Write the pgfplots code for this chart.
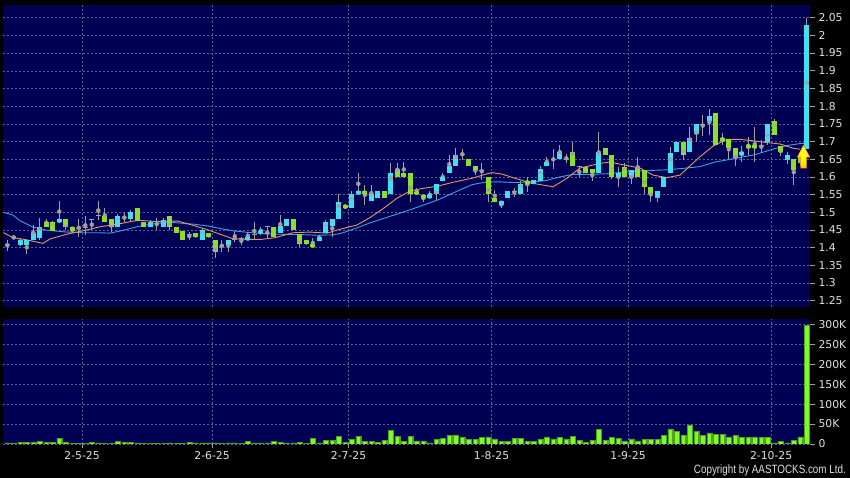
\documentclass[border=0pt]{standalone}
\usepackage{pgfplots}
\pgfplotsset{compat=1.18}
\usepackage{pgfplotstable}
\usepackage{fontspec}
\setmainfont{DejaVu Sans}
\newfontfamily\narrowfont[FakeStretch=0.82]{Liberation Sans}
\definecolor{navy}{RGB}{0,0,85}
\definecolor{gridc}{RGB}{95,95,145}
\definecolor{upc}{RGB}{64,224,240}
\definecolor{dnc}{RGB}{140,225,40}
\definecolor{wickc}{RGB}{160,160,160}
\definecolor{maorange}{RGB}{230,150,100}
\definecolor{mablue}{RGB}{60,160,230}
\definecolor{volc}{RGB}{125,250,40}
\definecolor{labc}{RGB}{225,225,225}

\pgfdeclareverticalshading{arrowshade}{100bp}{color(0bp)=(orange); color(40bp)=(yellow!90!orange); color(100bp)=(yellow!60!white)}
\pgfdeclareplotmark{aarrow}{%
  \pgfpathmoveto{\pgfqpoint{0pt}{12pt}}%
  \pgfpathlineto{\pgfqpoint{-6.3pt}{0pt}}%
  \pgfpathlineto{\pgfqpoint{-3pt}{0pt}}%
  \pgfpathlineto{\pgfqpoint{-3pt}{-11pt}}%
  \pgfpathlineto{\pgfqpoint{3pt}{-11pt}}%
  \pgfpathlineto{\pgfqpoint{3pt}{0pt}}%
  \pgfpathlineto{\pgfqpoint{6.3pt}{0pt}}%
  \pgfpathclose
  \pgfshadepath{arrowshade}{0}%
  \pgfusepath{stroke}%
}

% up candles: i O H L C
\pgfplotstableread{
i O H L C
2 1.408 1.428 1.406 1.422
3 1.408 1.421 1.381 1.421
4 1.421 1.464 1.421 1.441
5 1.428 1.483 1.422 1.459
8 1.472 1.532 1.472 1.480
17 1.459 1.495 1.459 1.490
19 1.480 1.505 1.475 1.500
22 1.459 1.478 1.459 1.472
24 1.459 1.485 1.459 1.478
30 1.422 1.455 1.422 1.450
34 1.408 1.422 1.389 1.422
37 1.422 1.445 1.422 1.429
39 1.441 1.459 1.436 1.448
42 1.440 1.492 1.440 1.460
43 1.460 1.480 1.460 1.480
48 1.420 1.436 1.420 1.429
49 1.440 1.478 1.440 1.472
50 1.461 1.480 1.429 1.480
51 1.480 1.553 1.480 1.530
53 1.511 1.560 1.511 1.551
54 1.551 1.610 1.551 1.560
56 1.531 1.577 1.531 1.551
57 1.540 1.560 1.540 1.560
59 1.551 1.640 1.551 1.610
65 1.539 1.560 1.539 1.550
66 1.551 1.580 1.535 1.580
67 1.589 1.610 1.589 1.600
68 1.610 1.662 1.610 1.631
69 1.631 1.681 1.631 1.662
76 1.521 1.533 1.511 1.533
77 1.539 1.560 1.539 1.560
79 1.552 1.589 1.552 1.580
81 1.580 1.591 1.580 1.591
82 1.588 1.630 1.588 1.621
83 1.630 1.655 1.630 1.643
85 1.650 1.690 1.650 1.669
91 1.610 1.728 1.610 1.669
94 1.599 1.629 1.572 1.610
96 1.601 1.620 1.580 1.620
100 1.539 1.561 1.530 1.561
101 1.571 1.599 1.571 1.599
102 1.610 1.685 1.610 1.668
103 1.669 1.700 1.669 1.700
105 1.669 1.742 1.669 1.709
106 1.721 1.750 1.700 1.750
108 1.759 1.791 1.719 1.772
113 1.662 1.686 1.643 1.671
117 1.700 1.750 1.690 1.750
120 1.648 1.671 1.637 1.662
123 1.680 2.050 1.680 2.030
}\upT

% down candles: i O H L C
\pgfplotstableread{
i O H L C
6 1.472 1.481 1.459 1.459
7 1.472 1.476 1.447 1.447
9 1.480 1.480 1.450 1.459
10 1.459 1.459 1.440 1.448
15 1.490 1.511 1.472 1.472
16 1.480 1.480 1.445 1.459
20 1.511 1.511 1.474 1.474
21 1.472 1.472 1.459 1.459
25 1.490 1.490 1.450 1.459
26 1.459 1.459 1.441 1.441
27 1.448 1.448 1.422 1.422
29 1.441 1.441 1.429 1.429
31 1.441 1.441 1.429 1.429
32 1.422 1.422 1.370 1.389
41 1.459 1.459 1.429 1.429
44 1.480 1.480 1.450 1.450
45 1.439 1.439 1.403 1.411
46 1.421 1.421 1.410 1.410
47 1.410 1.426 1.401 1.401
52 1.521 1.521 1.511 1.511
55 1.560 1.577 1.521 1.551
58 1.560 1.560 1.539 1.539
60 1.621 1.640 1.600 1.600
61 1.610 1.642 1.600 1.600
62 1.610 1.610 1.530 1.552
63 1.558 1.568 1.551 1.551
64 1.550 1.550 1.530 1.539
71 1.650 1.650 1.631 1.631
72 1.631 1.631 1.605 1.619
74 1.599 1.599 1.530 1.552
75 1.539 1.563 1.530 1.530
80 1.589 1.601 1.558 1.580
87 1.669 1.700 1.631 1.631
89 1.629 1.629 1.610 1.610
90 1.621 1.621 1.589 1.610
92 1.681 1.681 1.662 1.662
93 1.662 1.662 1.593 1.601
95 1.629 1.638 1.601 1.601
97 1.629 1.655 1.599 1.599
98 1.620 1.620 1.552 1.572
99 1.571 1.571 1.530 1.552
104 1.700 1.700 1.648 1.663
109 1.780 1.780 1.690 1.690
110 1.709 1.723 1.690 1.702
111 1.706 1.706 1.650 1.681
112 1.681 1.681 1.631 1.653
114 1.690 1.714 1.662 1.681
115 1.690 1.742 1.643 1.681
118 1.759 1.765 1.719 1.719
119 1.687 1.687 1.659 1.669
121 1.650 1.650 1.577 1.620
122 1.662 1.662 1.630 1.640
}\dnT

% doji: i P H L
\pgfplotstableread{
i P H L
0 1.409 1.422 1.391
1 1.428 1.436 1.422
11 1.455 1.481 1.431
12 1.457 1.490 1.436
13 1.480 1.480 1.450
14 1.490 1.532 1.478
18 1.485 1.497 1.473
23 1.475 1.483 1.450
28 1.436 1.443 1.422
33 1.403 1.422 1.389
35 1.424 1.447 1.417
36 1.426 1.431 1.408
38 1.436 1.472 1.422
40 1.459 1.459 1.426
70 1.662 1.680 1.648
73 1.619 1.640 1.592
78 1.558 1.568 1.544
84 1.650 1.678 1.621
86 1.650 1.665 1.640
88 1.629 1.629 1.600
107 1.747 1.775 1.715
116 1.690 1.704 1.667
}\djT

% volume in thousands
\pgfplotstableread{
i v
0 3
1 3
2 4
3 4
4 5
5 6
6 4
7 4
8 15
9 4
10 2
11 1
12 2
13 4
14 3
15 2
16 1
17 6
18 4
19 4
20 3
21 1
22 1
23 2
24 2
25 3
26 2
27 2
28 4
29 3
30 3
31 3
32 3
33 2
34 3
35 3
36 2
37 6
38 3
39 3
40 3
41 7
42 4
43 3
44 3
45 4
46 2
47 15
48 3
49 9
50 9
51 20
52 5
53 11
54 19
55 7
56 7
57 5
58 9
59 34
60 19
61 7
62 19
63 8
64 8
65 3
66 12
67 15
68 22
69 23
70 18
71 12
72 12
73 16
74 18
75 13
76 7
77 7
78 15
79 15
80 7
81 7
82 13
83 18
84 13
85 16
86 13
87 19
88 9
89 5
90 9
91 36
92 9
93 17
94 15
95 8
96 13
97 8
98 12
99 12
100 12
101 22
102 38
103 32
104 23
105 48
106 32
107 22
108 28
109 24
110 24
111 18
112 22
113 16
114 16
115 18
116 16
117 16
118 3
119 7
120 3
121 9
122 18
123 298
}\volT

\pgfplotsset{
  chartbase/.style={
    scale only axis, anchor=south west,
    xmin=-0.615, xmax=123.49,
    axis background/.style={fill=navy},
    axis line style={draw=none},
    grid=major,
    major grid style={gridc, dash pattern=on 2pt off 2pt, line width=0.45pt},
    ytick pos=right, yticklabel pos=right,
    tick align=outside, major tick length=4.5pt,
    tick style={wickc, line width=0.6pt},
    yticklabel style={anchor=west, text=labc, font=\fontsize{10.8}{12}\selectfont, xshift=0.5pt},
    xtick={11.5,31.5,52.5,74.5,95.5,117.5},
  },
  bodies/.style={only marks, mark=none, color=#1,
    error bars/.cd, y dir=both, y explicit, error mark=none,
    error bar style={line width=4.8pt, color=#1}},
  wicks/.style={only marks, mark=none, color=wickc,
    error bars/.cd, y dir=both, y explicit, error mark=none,
    error bar style={line width=0.9pt, color=wickc}},
}

\begin{document}
\begin{tikzpicture}
\fill[black] (0pt,0pt) rectangle (850pt,478pt);

% ---------------- price panel
\begin{axis}[chartbase,
  at={(3.3pt,171pt)}, width=806.7pt, height=302pt,
  ymin=1.2322, ymax=2.0859,
  ytick={1.25,1.3,1.35,1.4,1.45,1.5,1.55,1.6,1.65,1.7,1.75,1.8,1.85,1.9,1.95,2,2.05},
  yticklabel style={/pgf/number format/fixed, /pgf/number format/precision=2, /pgf/number format/assume math mode=true},
  xticklabels={}, xtick style={draw=none},
]
% moving averages
\addplot[mablue, line width=0.9pt] coordinates {
(-0.66,1.500)(0.88,1.492)(1.95,1.476)(3.95,1.458)(6.1,1.449)(9.18,1.444)(11.65,1.442)(14.26,1.442)(15.8,1.441)(17.34,1.447)(19.34,1.456)(20.42,1.461)(23.03,1.469)(25.49,1.471)(28.88,1.466)(30.88,1.461)(33.03,1.453)(35.03,1.447)(37.03,1.443)(39.18,1.440)(41.18,1.438)(45.03,1.437)(47.65,1.435)(50.11,1.436)(51.65,1.442)(53.8,1.456)(55.8,1.470)(57.8,1.482)(59.97,1.495)(61.95,1.507)(63.8,1.519)(66.26,1.535)(68.88,1.557)(71.49,1.578)(73.49,1.585)(75.49,1.586)(78.11,1.584)(80.72,1.586)(82.72,1.589)(85.03,1.600)(87.03,1.607)(89.65,1.607)(92.26,1.609)(94.72,1.613)(97.34,1.617)(101.49,1.620)(103.95,1.624)(106.57,1.629)(108.88,1.642)(111.95,1.652)(115.03,1.663)(118.11,1.680)(120.11,1.689)(122.26,1.695)(123.03,1.694)
};
\addplot[maorange, line width=0.9pt] coordinates {
(-0.66,1.443)(0.88,1.428)(3.03,1.422)(5.49,1.412)(6.57,1.4245)(9.18,1.438)(12.26,1.450)(14.26,1.459)(16.88,1.466)(19.34,1.475)(20.42,1.477)(22.72,1.474)(26.26,1.475)(28.42,1.464)(30.88,1.450)(33.03,1.436)(34.57,1.426)(36.57,1.4235)(39.18,1.4235)(41.18,1.428)(43.95,1.442)(46.57,1.444)(49.18,1.441)(51.18,1.452)(53.8,1.464)(55.8,1.485)(57.8,1.510)(59.97,1.540)(61.95,1.560)(63.8,1.567)(66.26,1.574)(68.88,1.586)(71.49,1.596)(73.49,1.607)(74.57,1.612)(76.1,1.608)(78.11,1.596)(80.72,1.582)(82.72,1.576)(83.95,1.572)(86.1,1.596)(88.1,1.625)(91.18,1.638)(92.72,1.642)(94.26,1.636)(97.34,1.625)(99.34,1.605)(101.49,1.598)(103.49,1.605)(106.57,1.657)(108.57,1.687)(110.72,1.706)(112.72,1.706)(114.72,1.702)(116.88,1.697)(118.88,1.693)(120.88,1.681)(121.95,1.678)
};
% wicks
\addplot[wicks] table[x=i, y expr={(\thisrow{H}+\thisrow{L})/2}, y error expr={(\thisrow{H}-\thisrow{L})/2}] {\upT};
\addplot[wicks] table[x=i, y expr={(\thisrow{H}+\thisrow{L})/2}, y error expr={(\thisrow{H}-\thisrow{L})/2}] {\dnT};
\addplot[wicks] table[x=i, y expr={(\thisrow{H}+\thisrow{L})/2}, y error expr={(\thisrow{H}-\thisrow{L})/2}] {\djT};
\addplot[only marks, mark=-, mark size=2.4pt, mark options={line width=0.9pt, color=wickc}]
  table[x=i, y=P] {\djT};
% bodies
\addplot[bodies=upc] table[x=i, y expr={(\thisrow{O}+\thisrow{C})/2}, y error expr={(\thisrow{C}-\thisrow{O})/2}] {\upT};
\addplot[bodies=dnc] table[x=i, y expr={(\thisrow{O}+\thisrow{C})/2}, y error expr={(\thisrow{O}-\thisrow{C})/2}] {\dnT};
% latest-price arrow
\addplot[only marks, mark=aarrow, mark options={draw=orange!80!red, line width=0.4pt}] coordinates {(122.49,1.656)};
\end{axis}

% ---------------- volume panel
\begin{axis}[chartbase,
  at={(3.3pt,34pt)}, width=806.7pt, height=125pt,
  ymin=0, ymax=313.3,
  ytick={0,50,100,150,200,250,300},
  yticklabels={0,50K,100K,150K,200K,250K,300K},
  xticklabels={2-5-25,2-6-25,2-7-25,1-8-25,1-9-25,2-10-25},
  xtick pos=bottom,
  xticklabel style={text=labc, font=\fontsize{10.8}{12}\selectfont, yshift=1pt},
]
\addplot[ybar, bar width=4.8pt, fill=volc, draw=volc!65!black, line width=0.3pt] table[x=i, y=v] {\volT};
\end{axis}

\node[anchor=south east, text=labc, font=\narrowfont\fontsize{12}{14}\selectfont, inner sep=0pt] at (846pt,2pt) {Copyright by AASTOCKS.com Ltd.};

\pgfresetboundingbox
\path (0pt,0pt) rectangle (850pt,478pt);
\end{tikzpicture}
\end{document}
